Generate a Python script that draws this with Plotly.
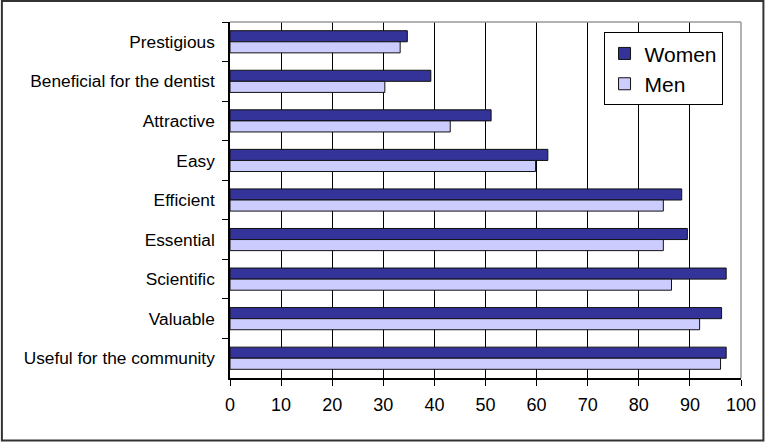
import plotly.graph_objects as go

categories = ["Prestigious", "Beneficial for the dentist", "Attractive", "Easy",
              "Efficient", "Essential", "Scientific", "Valuable", "Useful for the community"]
women = [34.7, 39.3, 51.1, 62.2, 88.4, 89.5, 97.1, 96.2, 97.1]
men = [33.3, 30.3, 43.1, 59.8, 84.8, 84.8, 86.4, 91.9, 96.0]
x_ticks = [0, 10, 20, 30, 40, 50, 60, 70, 80, 90, 100]

FONT = "Liberation Sans, Arial, sans-serif"
W, H = 768, 442
L, R, T, B = 230, 25, 22, 64
pw, ph = W - L - R, H - T - B

fig = go.Figure()
fig.add_trace(go.Bar(y=categories, x=women, orientation="h", name="Women",
                     marker=dict(color="#333399", line=dict(color="#111111", width=1)),
                     legendgroup="w"))
fig.add_trace(go.Bar(y=categories, x=men, orientation="h", name="Men",
                     marker=dict(color="#CCCCFF", line=dict(color="#111111", width=1)),
                     legendgroup="m"))

fig.update_layout(
    width=W, height=H,
    margin=dict(l=L, r=R, t=T, b=B, pad=0),
    paper_bgcolor="white", plot_bgcolor="white",
    barmode="group", bargap=0.44, bargroupgap=0,
    font=dict(family=FONT, color="black"),
    showlegend=True,
    legend=dict(x=(605 - L) / pw, y=(H - B - 32.3) / ph, xanchor="left", yanchor="top",
                bgcolor="white", bordercolor="black", borderwidth=1,
                font=dict(size=21, family=FONT), tracegroupgap=3,
                traceorder="normal", entrywidth=40, entrywidthmode="pixels"),
    xaxis=dict(range=[0, 100], tickvals=x_ticks, showgrid=True, gridcolor="black", gridwidth=1,
               showline=True, linecolor="black", linewidth=1.5, ticks="outside", ticklen=6,
               tickcolor="black", tickfont=dict(size=18, family=FONT), zeroline=False,
               ticklabelstandoff=4),
    yaxis=dict(autorange="reversed", type="category", showline=True, linecolor="black", linewidth=1.5,
               ticks="outside", ticklen=6, tickcolor="black", tickson="boundaries",
               tickfont=dict(size=17.3, family=FONT), showgrid=False, ticklabelstandoff=10),
)

# plot area border (top, right) in grey
fig.add_shape(type="line", xref="paper", yref="paper", x0=0, x1=1, y0=1, y1=1,
              line=dict(color="#999999", width=1.5), layer="above")
fig.add_shape(type="line", xref="paper", yref="paper", x0=1, x1=1, y0=0, y1=1,
              line=dict(color="#999999", width=1.5), layer="above")
# outer chart border
fig.add_shape(type="rect", xref="paper", yref="paper",
              x0=(1 - L) / pw, x1=(765.5 - L) / pw,
              y0=(H - B - 440.5) / ph, y1=(H - B - 1) / ph,
              line=dict(color="#333333", width=2), fillcolor="rgba(0,0,0,0)", layer="above")

fig.write_html("out.html", config={"displayModeBar": False},
               post_script="document.body.style.margin='0';document.body.style.overflow='hidden';")
